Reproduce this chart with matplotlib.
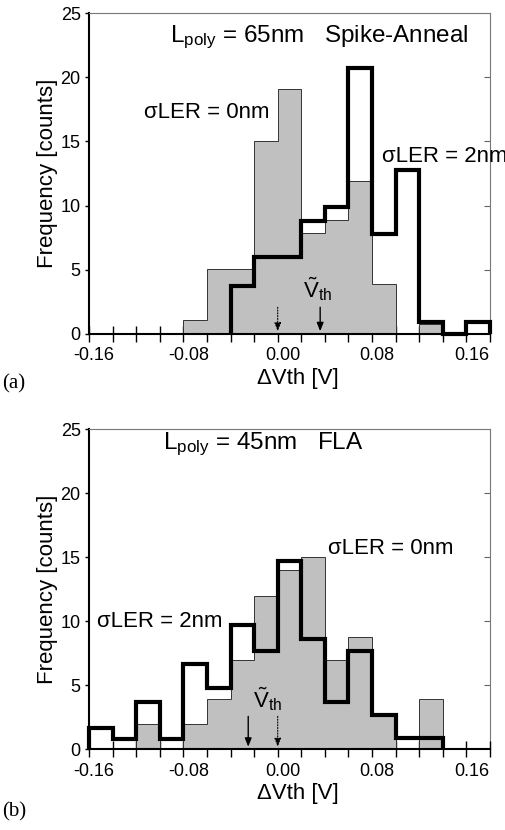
import matplotlib
matplotlib.use("Agg")
import matplotlib.pyplot as plt
import matplotlib.transforms as mtransforms

plt.rcParams['font.family'] = ['Liberation Sans', 'DejaVu Sans']
plt.rcParams['mathtext.fontset'] = 'custom'
plt.rcParams['mathtext.rm'] = 'Liberation Sans'
plt.rcParams['mathtext.it'] = 'Liberation Sans'

# ---- data ----
# (a) Lpoly = 65nm, Spike-Anneal
edges_a_gray = [-0.08, -0.06, -0.04, -0.02, 0.00, 0.02, 0.04, 0.06, 0.08, 0.10, 0.12, 0.14]
freq_a_gray = [1.1, 5.1, 5.1, 15.0, 19.1, 7.9, 8.9, 11.9, 3.9, 0.0, 0.8]
edges_a_black = [-0.04, -0.02, 0.00, 0.02, 0.04, 0.06, 0.08, 0.10, 0.12, 0.14, 0.16, 0.18]
freq_a_black = [3.7, 6.0, 6.0, 8.8, 9.9, 20.7, 7.8, 12.8, 0.9, 0.0, 0.9]
vth_a_gray = 0.0
vth_a_black = 0.036

# (b) Lpoly = 45nm, FLA
edges_b_gray = [-0.12, -0.10, -0.08, -0.06, -0.04, -0.02, 0.00, 0.02, 0.04, 0.06, 0.08, 0.10, 0.12, 0.14]
freq_b_gray = [2.0, 0.0, 2.0, 3.9, 7.0, 12.0, 14.0, 15.0, 7.0, 8.8, 2.7, 0.0, 3.9]
edges_b_black = [-0.16, -0.14, -0.12, -0.10, -0.08, -0.06, -0.04, -0.02, 0.00, 0.02, 0.04, 0.06, 0.08, 0.10, 0.12, 0.14]
freq_b_black = [1.7, 0.8, 3.7, 0.8, 6.7, 4.8, 9.7, 7.7, 14.7, 8.6, 3.7, 7.7, 2.7, 0.9, 0.9]
vth_b_gray = 0.0
vth_b_black = -0.025

xticks = [-0.16, -0.08, 0.00, 0.08, 0.16]
xtick_labels = ['-0.16', '-0.08', '0.00', '0.08', '0.16']
xminor = [-0.16 + 0.02 * i for i in range(18)]
yticks = [0, 5, 10, 15, 20, 25]

panels = [
    dict(rect=[0.1759, 0.5976, 0.7925, 0.3867],
         eg=edges_a_gray, fg=freq_a_gray, eb=edges_a_black, fb=freq_a_black,
         vg=vth_a_gray, vb=vth_a_black, arrow_top=2.3,
         title=r'L$_{\rm poly}$ = 65nm   Spike-Anneal', title_xy=(-0.0915, 22.7),
         lab0=(-0.113, 17.25), lab2=(0.088, 13.8),
         vlab=(0.034, 2.85), tag='(a)', tag_y=0.538),
    dict(rect=[0.1759, 0.0970, 0.7925, 0.3861],
         eg=edges_b_gray, fg=freq_b_gray, eb=edges_b_black, fb=freq_b_black,
         vg=vth_b_gray, vb=vth_b_black, arrow_top=2.8,
         title=r'L$_{\rm poly}$ = 45nm   FLA', title_xy=(-0.097, 23.4),
         lab0=(0.043, 15.7), lab2=(-0.1535, 10.0),
         vlab=(-0.009, 3.3), tag='(b)', tag_y=0.022),
]

fig = plt.figure(figsize=(5.06, 8.3), dpi=100)
shift = mtransforms.ScaledTranslation(0.05, 0, fig.dpi_scale_trans)

for p in panels:
    ax = fig.add_axes(p['rect'])
    ax.stairs(p['fg'], p['eg'], fill=True, facecolor='#c0c0c0',
              edgecolor='#333333', linewidth=0.7, zorder=2)
    ax.stairs(p['fb'], p['eb'], color='black', linewidth=3.0,
              baseline=0, zorder=3, clip_on=False)

    # median markers
    ax.annotate('', xy=(p['vg'], 0), xytext=(p['vg'], p['arrow_top']),
                arrowprops=dict(arrowstyle='-|>,head_length=0.5,head_width=0.2',
                                color='black', lw=0.8, linestyle=(0, (1, 1.5))),
                zorder=4)
    ax.annotate('', xy=(p['vb'], 0), xytext=(p['vb'], p['arrow_top']),
                arrowprops=dict(arrowstyle='-|>,head_length=0.5,head_width=0.2',
                                color='black', lw=1.0),
                zorder=4)
    ax.text(p['vlab'][0], p['vlab'][1], r'$\tilde{\rm V}_{\rm th}$',
            fontsize=16, ha='center', va='baseline')

    ax.text(p['title_xy'][0], p['title_xy'][1], p['title'], fontsize=17.5,
            ha='left', va='baseline')
    ax.text(p['lab0'][0], p['lab0'][1], 'σLER = 0nm', fontsize=16,
            ha='left', va='center')
    ax.text(p['lab2'][0], p['lab2'][1], 'σLER = 2nm', fontsize=16,
            ha='left', va='center')

    ax.set_xlim(-0.16, 0.18)
    ax.set_ylim(0, 25)
    ax.set_xticks(xticks)
    ax.set_xticklabels(xtick_labels)
    ax.set_xticks(xminor, minor=True)
    ax.set_yticks(yticks)
    ax.tick_params(axis='x', which='both', direction='inout', length=11,
                   width=1.0, labelsize=13, pad=4)
    ax.tick_params(axis='y', which='major', direction='out', length=3,
                   width=1.0, labelsize=13, pad=3, right=False)
    for lbl in ax.get_xticklabels():
        lbl.set_transform(lbl.get_transform() + shift)

    ax.spines['left'].set_linewidth(1.5)
    ax.spines['bottom'].set_linewidth(1.5)
    ax.spines['top'].set_color('#777777')
    ax.spines['top'].set_linewidth(0.8)
    ax.spines['right'].set_visible(False)

    sec = ax.secondary_yaxis('right')
    sec.set_yticks([5, 10, 15, 20])
    sec.tick_params(direction='in', length=4, width=0.8, colors='#666666',
                    labelright=False)
    sec.spines['right'].set_color('#777777')
    sec.spines['right'].set_linewidth(0.8)

    ax.set_xlabel('ΔVth [V]', fontsize=16, labelpad=8)
    ax.xaxis.set_label_coords(0.52, -0.105)
    ax.set_ylabel('Frequency [counts]', fontsize=16, labelpad=2)

    fig.text(0.004, p['tag_y'], p['tag'], fontsize=15,
             family=['Liberation Serif', 'DejaVu Serif'], ha='left', va='center')

fig.savefig('out.png', dpi=100)
